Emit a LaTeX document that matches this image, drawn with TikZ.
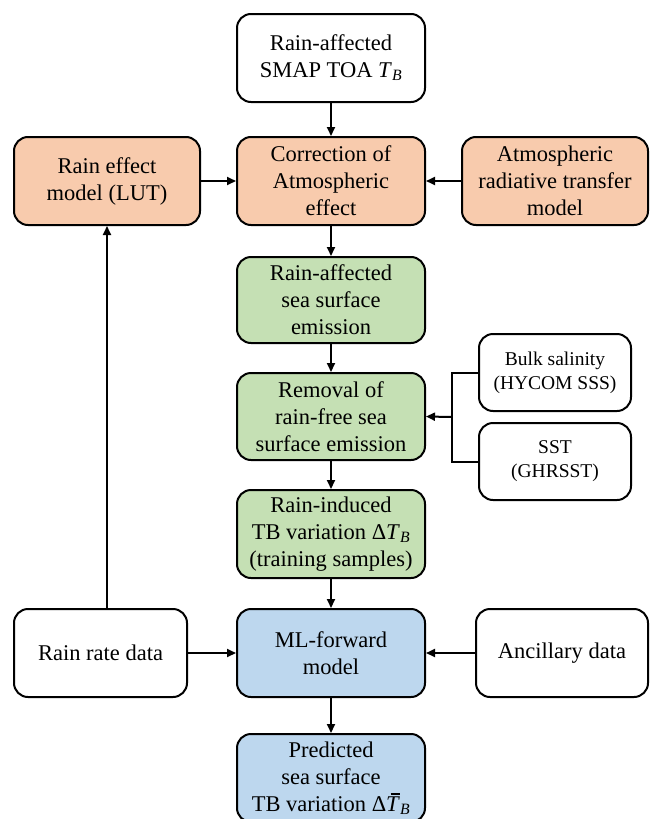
\documentclass[tikz,border=0pt]{standalone}
\usepackage{fontspec}
\setmainfont{Liberation Serif}
\usetikzlibrary{arrows.meta}
\definecolor{orangefill}{HTML}{F8CBAD}
\definecolor{greenfill}{HTML}{C5E0B4}
\definecolor{bluefill}{HTML}{BDD7EE}
\newcommand{\TB}{\textit{T}\textsubscript{\textit{B}}}
\newcommand{\TBbar}{\makebox[0pt][l]{\kern0.2em\rule[0.74em]{0.42em}{0.05em}}\textit{T}\textsubscript{\textit{B}}}
\begin{document}
\begin{tikzpicture}[x=1pt,y=-1pt,
  box/.style={draw=black, line width=2pt, rounded corners=14pt, align=center,
    font=\fontsize{22.5}{27}\selectfont, inner sep=0pt},
  mainbox/.style={box, minimum width=188pt, minimum height=88pt},
  sidebox/.style={box, minimum width=186pt, minimum height=88pt},
  smallbox/.style={box, minimum width=152pt, minimum height=77pt, font=\fontsize{19.5}{24}\selectfont},
  arr/.style={line width=2pt, -{Triangle[length=9pt,width=8pt]}}
]
\useasboundingbox (0,0) rectangle (655,819);
\begin{scope}
\clip (0,0) rectangle (655,819);
\node[mainbox] (top) at (331,58) {Rain-affected\\SMAP TOA \TB};
\node[mainbox, fill=orangefill] (corr) at (331,181) {Correction of\\Atmospheric\\effect};
\node[sidebox, fill=orangefill] (lut) at (107,181) {Rain effect\\model (LUT)};
\node[sidebox, fill=orangefill] (rtm) at (555,181) {Atmospheric\\radiative transfer\\model};
\node[mainbox, minimum height=86pt, fill=greenfill] (emis) at (331,300) {Rain-affected\\sea surface\\emission};
\node[mainbox, minimum height=87pt, fill=greenfill] (remov) at (331,416.5) {Removal of\\rain-free sea\\surface emission};
\node[smallbox] (sal) at (555,372.5) {Bulk salinity\\(HYCOM SSS)};
\node[smallbox] (sst) at (555,461.5) {SST\\(GHRSST)};
\node[mainbox, fill=greenfill] (induced) at (331,534) {Rain-induced\\TB variation Δ\TB\\(training samples)};
\node[mainbox, fill=bluefill] (ml) at (331,653) {ML-forward\\model};
\node[box, minimum width=173pt, minimum height=88pt] (rain) at (100.5,653) {Rain rate data};
\node[box, minimum width=172pt, minimum height=88pt] (anc) at (562,653) {Ancillary data};
\node[mainbox, fill=bluefill] (pred) at (331,778) {Predicted\\sea surface\\TB variation Δ\TBbar};
\end{scope}
\coordinate (bx) at (452,417);
\draw[arr] (top) -- (corr);
\draw[arr] (lut) -- (corr);
\draw[arr] (rtm) -- (corr);
\draw[arr] (corr) -- (emis);
\draw[arr] (emis) -- (remov);
\draw[line width=2pt] (sal.west) -| (bx) |- (sst.west);
\draw[arr] (bx) -- (remov.east);
\draw[arr] (remov) -- (induced);
\draw[arr] (induced) -- (ml);
\draw[arr] (rain) -- (ml);
\draw[arr] (anc) -- (ml);
\draw[arr] (ml) -- (pred);
\draw[arr] (rain.north -| lut.south) -- (lut.south);
\end{tikzpicture}
\end{document}
